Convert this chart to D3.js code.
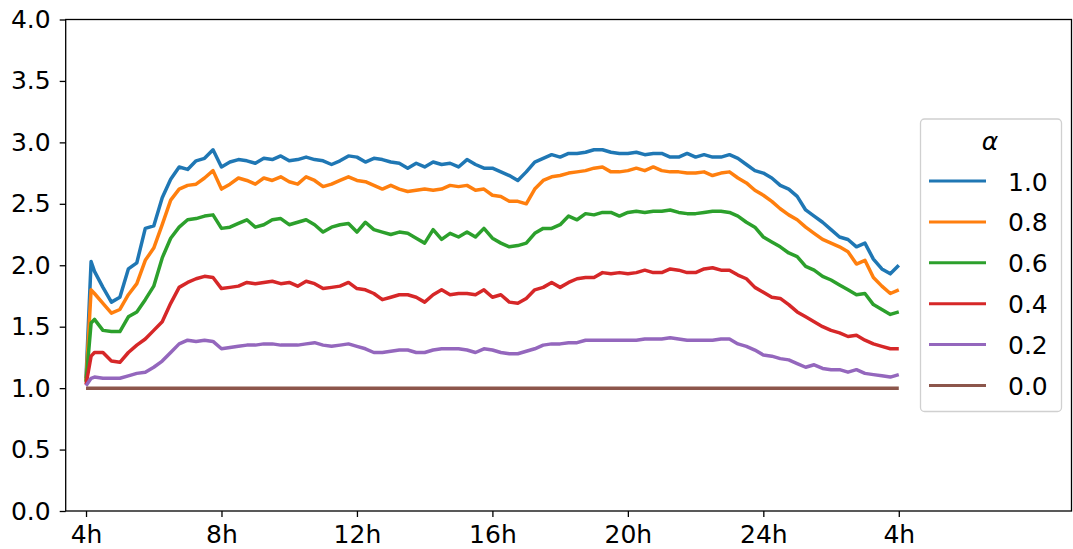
<!DOCTYPE html>
<html>
<head>
<meta charset="utf-8">
<script src="https://cdn.jsdelivr.net/npm/d3@7"></script>
<style>
  body { margin: 0; background: #fff; }
  svg { display: block; font-family: "DejaVu Sans", sans-serif; }
</style>
</head>
<body>
<svg width="1073" height="549"></svg>
<script>
// hours after 4h (0 = 4h, 24 = 4h next day)
var hours = [0, 0.15,
  0.25, 0.5, 0.75, 1,    1.25, 1.5, 1.75, 2,    2.25, 2.5, 2.75, 3,    3.25, 3.5, 3.75, 4,
  4.25, 4.5, 4.75, 5,    5.25, 5.5, 5.75, 6,    6.25, 6.5, 6.75, 7,    7.25, 7.5, 7.75, 8,
  8.25, 8.5, 8.75, 9,    9.25, 9.5, 9.75, 10,   10.25, 10.5, 10.75, 11, 11.25, 11.5, 11.75, 12,
  12.25, 12.5, 12.75, 13, 13.25, 13.5, 13.75, 14, 14.25, 14.5, 14.75, 15, 15.25, 15.5, 15.75, 16,
  16.25, 16.5, 16.75, 17, 17.25, 17.5, 17.75, 18, 18.25, 18.5, 18.75, 19, 19.25, 19.5, 19.75, 20,
  20.25, 20.5, 20.75, 21, 21.25, 21.5, 21.75, 22, 22.25, 22.5, 22.75, 23, 23.25, 23.5, 23.75, 24];

var alpha10 = [1.08, 2.03,
  1.95, 1.82, 1.70, 1.74,  1.97, 2.02, 2.30, 2.32,  2.55, 2.70, 2.80, 2.78,  2.85, 2.87, 2.94, 2.80,
  2.84, 2.86, 2.85, 2.83,  2.87, 2.86, 2.89, 2.85,  2.86, 2.88, 2.86, 2.85,  2.82, 2.85, 2.89, 2.88,
  2.84, 2.87, 2.86, 2.84,  2.83, 2.79, 2.83, 2.80,  2.84, 2.82, 2.83, 2.80,  2.86, 2.82, 2.79, 2.79,
  2.76, 2.73, 2.69, 2.76,  2.84, 2.87, 2.90, 2.88,  2.91, 2.91, 2.92, 2.94,  2.94, 2.92, 2.91, 2.91,
  2.92, 2.90, 2.91, 2.91,  2.88, 2.88, 2.91, 2.88,  2.90, 2.88, 2.88, 2.90,  2.87, 2.82, 2.77, 2.75,
  2.71, 2.65, 2.62, 2.56,  2.45, 2.40, 2.35, 2.29,  2.23, 2.21, 2.15, 2.18,  2.05, 1.97, 1.93, 2.00];

var alpha08 = [1.06, 1.80,
  1.77, 1.69, 1.61, 1.64,  1.76, 1.85, 2.04, 2.14,  2.33, 2.53, 2.62, 2.65,  2.66, 2.71, 2.77, 2.62,
  2.66, 2.71, 2.69, 2.66,  2.71, 2.69, 2.72, 2.68,  2.66, 2.72, 2.69, 2.64,  2.66, 2.69, 2.72, 2.69,
  2.68, 2.65, 2.62, 2.65,  2.62, 2.60, 2.61, 2.62,  2.61, 2.62, 2.65, 2.64,  2.65, 2.61, 2.62, 2.57,
  2.56, 2.52, 2.52, 2.50,  2.62, 2.69, 2.72, 2.73,  2.75, 2.76, 2.77, 2.79,  2.80, 2.76, 2.76, 2.77,
  2.79, 2.77, 2.80, 2.77,  2.76, 2.76, 2.75, 2.75,  2.76, 2.73, 2.75, 2.76,  2.71, 2.67, 2.61, 2.57,
  2.52, 2.46, 2.41, 2.37,  2.31, 2.26, 2.21, 2.18,  2.15, 2.11, 2.01, 2.04,  1.90, 1.83, 1.77, 1.80];

var alpha06 = [1.05, 1.53,
  1.56, 1.47, 1.46, 1.46,  1.58, 1.62, 1.72, 1.83,  2.06, 2.22, 2.31, 2.37,  2.38, 2.40, 2.41, 2.30,
  2.31, 2.34, 2.37, 2.31,  2.33, 2.37, 2.38, 2.33,  2.35, 2.37, 2.33, 2.27,  2.31, 2.33, 2.34, 2.27,
  2.35, 2.29, 2.27, 2.25,  2.27, 2.26, 2.22, 2.18,  2.29, 2.21, 2.26, 2.23,  2.27, 2.23, 2.30, 2.22,
  2.18, 2.15, 2.16, 2.18,  2.26, 2.30, 2.30, 2.33,  2.40, 2.37, 2.42, 2.41,  2.43, 2.43, 2.40, 2.43,
  2.44, 2.43, 2.44, 2.44,  2.45, 2.43, 2.42, 2.42,  2.43, 2.44, 2.44, 2.43,  2.40, 2.35, 2.31, 2.23,
  2.19, 2.15, 2.10, 2.07,  1.99, 1.96, 1.91, 1.88,  1.84, 1.80, 1.76, 1.77,  1.68, 1.64, 1.60, 1.62];

var alpha04 = [1.03, 1.26,
  1.29, 1.29, 1.22, 1.21,  1.29, 1.35, 1.40, 1.47,  1.54, 1.69, 1.82, 1.86,  1.89, 1.91, 1.90, 1.81,
  1.82, 1.83, 1.86, 1.85,  1.86, 1.87, 1.85, 1.86,  1.83, 1.87, 1.85, 1.81,  1.82, 1.83, 1.86, 1.81,
  1.80, 1.77, 1.72, 1.74,  1.76, 1.76, 1.74, 1.70,  1.76, 1.80, 1.76, 1.77,  1.77, 1.76, 1.80, 1.74,
  1.76, 1.70, 1.69, 1.73,  1.80, 1.82, 1.86, 1.82,  1.86, 1.89, 1.90, 1.90,  1.94, 1.93, 1.94, 1.93,
  1.94, 1.96, 1.94, 1.94,  1.97, 1.96, 1.94, 1.94,  1.97, 1.98, 1.96, 1.96,  1.92, 1.89, 1.82, 1.78,
  1.74, 1.73, 1.68, 1.62,  1.58, 1.54, 1.50, 1.47,  1.45, 1.42, 1.43, 1.39,  1.36, 1.34, 1.32, 1.32];

var alpha02 = [1.02, 1.08,
  1.09, 1.08, 1.08, 1.08,  1.10, 1.12, 1.13, 1.17,  1.22, 1.29, 1.36, 1.39,  1.38, 1.39, 1.38, 1.32,
  1.33, 1.34, 1.35, 1.35,  1.36, 1.36, 1.35, 1.35,  1.35, 1.36, 1.37, 1.35,  1.34, 1.35, 1.36, 1.34,
  1.32, 1.29, 1.29, 1.30,  1.31, 1.31, 1.29, 1.29,  1.31, 1.32, 1.32, 1.32,  1.31, 1.29, 1.32, 1.31,
  1.29, 1.28, 1.28, 1.30,  1.32, 1.35, 1.36, 1.36,  1.37, 1.37, 1.39, 1.39,  1.39, 1.39, 1.39, 1.39,
  1.39, 1.40, 1.40, 1.40,  1.41, 1.40, 1.39, 1.39,  1.39, 1.39, 1.40, 1.40,  1.36, 1.34, 1.31, 1.27,
  1.26, 1.24, 1.23, 1.20,  1.17, 1.19, 1.16, 1.15,  1.15, 1.13, 1.15, 1.12,  1.11, 1.10, 1.09, 1.11];

var alpha00 = [1.00, 1.00,
  1.00, 1.00, 1.00, 1.00,  1.00, 1.00, 1.00, 1.00,  1.00, 1.00, 1.00, 1.00,  1.00, 1.00, 1.00, 1.00,
  1.00, 1.00, 1.00, 1.00,  1.00, 1.00, 1.00, 1.00,  1.00, 1.00, 1.00, 1.00,  1.00, 1.00, 1.00, 1.00,
  1.00, 1.00, 1.00, 1.00,  1.00, 1.00, 1.00, 1.00,  1.00, 1.00, 1.00, 1.00,  1.00, 1.00, 1.00, 1.00,
  1.00, 1.00, 1.00, 1.00,  1.00, 1.00, 1.00, 1.00,  1.00, 1.00, 1.00, 1.00,  1.00, 1.00, 1.00, 1.00,
  1.00, 1.00, 1.00, 1.00,  1.00, 1.00, 1.00, 1.00,  1.00, 1.00, 1.00, 1.00,  1.00, 1.00, 1.00, 1.00,
  1.00, 1.00, 1.00, 1.00,  1.00, 1.00, 1.00, 1.00,  1.00, 1.00, 1.00, 1.00,  1.00, 1.00, 1.00, 1.00];

var seriesNames = ["1.0", "0.8", "0.6", "0.4", "0.2", "0.0"];
var seriesValues = [alpha10, alpha08, alpha06, alpha04, alpha02, alpha00];
var colors = ["#1f77b4", "#ff7f0e", "#2ca02c", "#d62728", "#9467bd", "#8c564b"];

var xTicks = [0, 4, 8, 12, 16, 20, 24];
var xTickLabels = ["4h", "8h", "12h", "16h", "20h", "24h", "4h"];
var yTicks = [0, 0.5, 1, 1.5, 2, 2.5, 3, 3.5, 4];

var svg = d3.select("svg");
// plot box (window.top is taken, so own names)
var plotL = 65.7, plotR = 1071.5, plotT = 19.5, plotB = 511;

var x = d3.scaleLinear().domain([-0.6, 29.1]).range([plotL, plotR]);
var y = d3.scaleLinear().domain([0, 4]).range([plotB, plotT]);

// lines
var line = d3.line()
    .x(function(d) { return x(d[0]); })
    .y(function(d) { return y(d[1]); });

svg.append("g")
    .selectAll("path")
    .data(seriesValues)
    .enter().append("path")
    .attr("fill", "none")
    .attr("stroke", function(d, i) { return colors[i]; })
    .attr("stroke-width", 3.5)
    .attr("stroke-linejoin", "round")
    .attr("d", function(vals) {
        return line(hours.map(function(h, j) { return [h, vals[j]]; }));
    });

// axes
var xAxis = svg.append("g")
    .attr("transform", "translate(0," + plotB + ")")
    .call(d3.axisBottom(x).tickValues(xTicks).tickSize(6).tickPadding(8)
        .tickFormat(function(d, i) { return xTickLabels[i]; }));

var yAxis = svg.append("g")
    .attr("transform", "translate(" + plotL + ",0)")
    .call(d3.axisLeft(y).tickValues(yTicks).tickSize(6).tickPadding(9)
        .tickFormat(d3.format(".1f")));

[xAxis, yAxis].forEach(function(a) {
    a.select(".domain").remove();
    a.selectAll("line").attr("stroke", "#000").attr("stroke-width", 1.3);
    a.selectAll("text").attr("fill", "#000").style("font-size", "25px")
        .style("font-family", "DejaVu Sans, sans-serif");
});

// frame
svg.append("rect")
    .attr("x", plotL).attr("y", plotT)
    .attr("width", plotR - plotL).attr("height", plotB - plotT)
    .attr("fill", "none").attr("stroke", "#000").attr("stroke-width", 1.3);

// legend
var legend = svg.append("g");
legend.append("rect")
    .attr("x", 920.5).attr("y", 119)
    .attr("width", 141).attr("height", 292.5)
    .attr("rx", 4)
    .attr("fill", "#fff").attr("fill-opacity", 0.8)
    .attr("stroke", "#d0d0d0").attr("stroke-width", 1.3);

legend.append("text")
    .attr("x", 990).attr("y", 150)
    .attr("text-anchor", "middle")
    .style("font-size", "25px").style("font-style", "italic")
    .text("α");

var items = legend.selectAll(".item")
    .data(seriesNames)
    .enter().append("g")
    .attr("transform", function(d, i) { return "translate(0," + (181 + i * 40.9) + ")"; });

items.append("line")
    .attr("x1", 929).attr("x2", 986)
    .attr("stroke", function(d, i) { return colors[i]; })
    .attr("stroke-width", 3);

items.append("text")
    .attr("x", 1008).attr("y", 9.5)
    .style("font-size", "25px")
    .text(function(d) { return d; });
</script>
</body>
</html>
